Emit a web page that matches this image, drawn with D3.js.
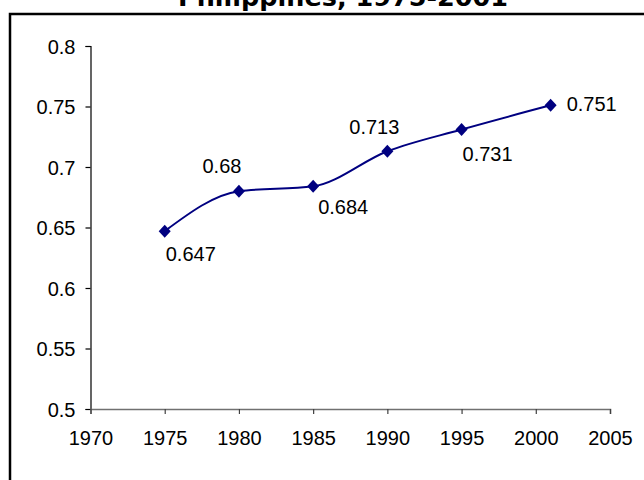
<!DOCTYPE html>
<html>
<head>
<meta charset="utf-8">
<script src="https://cdn.jsdelivr.net/npm/d3@7/dist/d3.min.js"></script>
<style>
  html, body { margin: 0; padding: 0; background: #fff; }
  svg { display: block; }
</style>
</head>
<body>
<script>
// HDI series, Philippines
const years = [1975, 1980, 1985, 1990, 1995, 2001];
const hdi = [0.647, 0.68, 0.684, 0.713, 0.731, 0.751];
const labels = ["0.647", "0.68", "0.684", "0.713", "0.731", "0.751"];

// Axis ticks
const xTicks = [1970, 1975, 1980, 1985, 1990, 1995, 2000, 2005];
const yTicks = [0.5, 0.55, 0.6, 0.65, 0.7, 0.75, 0.8];
const yTickLabels = ["0.5", "0.55", "0.6", "0.65", "0.7", "0.75", "0.8"];

const titleText = "Philippines, 1975-2001";

const W = 644, H = 480;
const svg = d3.select("body").append("svg")
  .attr("width", W).attr("height", H);

// chart frame
svg.append("rect")
  .attr("x", 10).attr("y", 14)
  .attr("width", 700).attr("height", 600)
  .attr("fill", "#fff")
  .attr("stroke", "#000").attr("stroke-width", 2.5);

// title (second line of the heading)
svg.append("text")
  .attr("x", 343).attr("y", 6)
  .attr("text-anchor", "middle")
  .attr("font-family", "'DejaVu Sans', Verdana, sans-serif")
  .attr("font-weight", "bold")
  .attr("font-size", 25)
  .attr("textLength", 330)
  .attr("lengthAdjust", "spacingAndGlyphs")
  .text(titleText);

const x = d3.scaleLinear().domain([1970, 2005]).range([90.5, 610]);
const y = d3.scaleLinear().domain([0.5, 0.8]).range([409, 46]);

const font = "'Liberation Sans', Arial, sans-serif";

// y axis
const yAxis = svg.append("g")
  .attr("transform", "translate(90.5,0)")
  .call(d3.axisLeft(y).tickValues(yTicks)
    .tickFormat((d, i) => yTickLabels[i])
    .tickSize(5).tickPadding(10));
yAxis.select(".domain").attr("stroke", "#000").attr("stroke-width", 1.2);
yAxis.selectAll(".tick line").attr("stroke", "#000").attr("stroke-width", 1.2);
yAxis.selectAll(".tick text")
  .attr("font-family", font).attr("font-size", 20).attr("fill", "#000")
  .attr("dy", "0.36em");

// x axis
const xAxis = svg.append("g")
  .attr("transform", "translate(0,409)")
  .call(d3.axisBottom(x).tickValues(xTicks)
    .tickFormat(d3.format("d"))
    .tickSize(5).tickPadding(12));
xAxis.select(".domain").attr("stroke", "#707070").attr("stroke-width", 1.5);
xAxis.selectAll(".tick line").attr("stroke", "#404040").attr("stroke-width", 1.2);
xAxis.selectAll(".tick text")
  .attr("font-family", font).attr("font-size", 20).attr("fill", "#000")
  .attr("dy", "0.95em");

const pts = years.map((yr, i) => [yr, hdi[i]]);

// smoothed series line
const line = d3.line()
  .x(d => x(d[0])).y(d => y(d[1]))
  .curve(d3.curveMonotoneX);
svg.append("path")
  .datum(pts)
  .attr("d", line)
  .attr("fill", "none")
  .attr("stroke", "#000080")
  .attr("stroke-width", 2);

// diamond markers
svg.selectAll("path.marker")
  .data(pts)
  .enter().append("path")
  .attr("class", "marker")
  .attr("d", "M0,-6.5L6,0L0,6.5L-6,0Z")
  .attr("transform", d => `translate(${x(d[0])},${y(d[1])})`)
  .attr("fill", "#000080");

// data labels: offset from each marker (dx, dy) and anchor
const labelPlacement = [
  { dx: 1, dy: 30, anchor: "start" },
  { dx: -17, dy: -18, anchor: "middle" },
  { dx: 5, dy: 28, anchor: "start" },
  { dx: -13, dy: -17, anchor: "middle" },
  { dx: 1, dy: 32, anchor: "start" },
  { dx: 16, dy: 6, anchor: "start" }
];
svg.selectAll("text.lbl")
  .data(pts)
  .enter().append("text")
  .attr("class", "lbl")
  .attr("x", (d, i) => x(d[0]) + labelPlacement[i].dx)
  .attr("y", (d, i) => y(d[1]) + labelPlacement[i].dy)
  .attr("text-anchor", (d, i) => labelPlacement[i].anchor)
  .attr("font-family", font)
  .attr("font-size", 20)
  .attr("fill", "#000")
  .text((d, i) => labels[i]);
</script>
</body>
</html>
